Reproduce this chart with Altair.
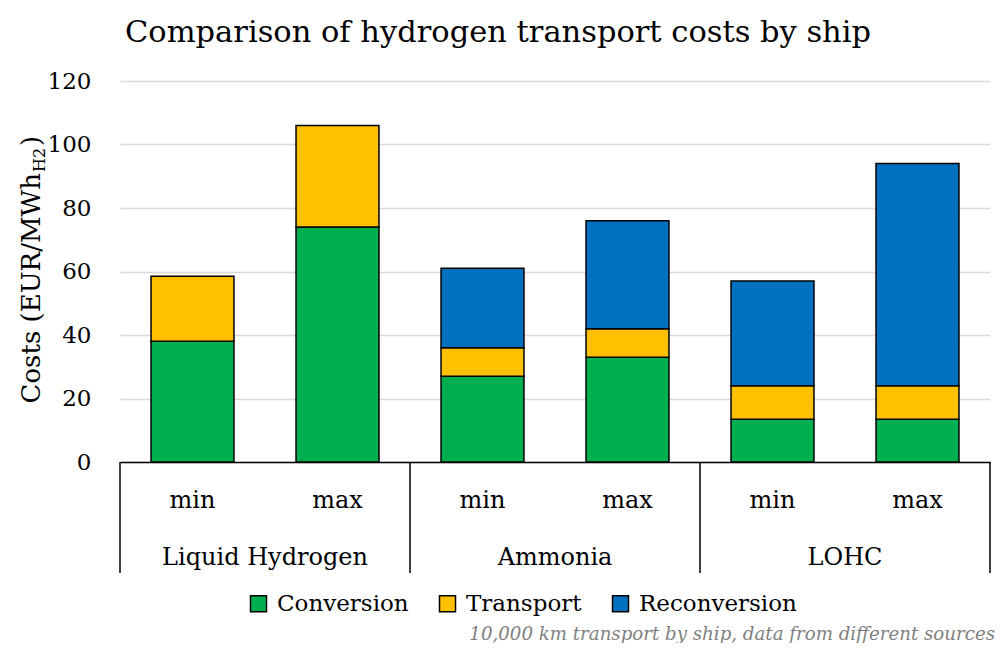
import altair as alt
import pandas as pd

groups = ["Liquid Hydrogen", "Ammonia", "LOHC"]
levels = ["min", "max"]
components = ["Conversion", "Transport", "Reconversion"]
colors = ["#00B050", "#FFC000", "#0070C0"]

# values per bar in order: LH min, LH max, NH3 min, NH3 max, LOHC min, LOHC max
conversion = [38, 74, 27, 33, 13.5, 13.5]
transport = [20.5, 32, 9, 9, 10.5, 10.5]
reconversion = [0, 0, 25, 34, 33, 70]

y_ticks = [0, 20, 40, 60, 80, 100, 120]
boundaries = [0, 1, 2, 3]

FONT = "DejaVu Serif"
W, H = 870, 381

bar_ids, bar_levels, bar_groups = [], [], []
for g in groups:
    for l in levels:
        bar_ids.append(g + "|" + l)
        bar_levels.append(l)
        bar_groups.append(g)

rows = []
for i, bid in enumerate(bar_ids):
    for ci, (comp, vals) in enumerate(zip(components, [conversion, transport, reconversion])):
        if vals[i] > 0:
            rows.append({"bar": bid, "component": comp, "value": vals[i], "idx": ci})
df = pd.DataFrame(rows)
df_levels = pd.DataFrame({"bar": bar_ids, "level": bar_levels})
df_groups = pd.DataFrame({"group": groups})
df_bounds = pd.DataFrame({"b": boundaries})

bars = alt.Chart(df).mark_bar(stroke="black", strokeWidth=1.5).encode(
    x=alt.X("bar:N", sort=bar_ids,
            scale=alt.Scale(paddingInner=0.428, paddingOuter=0.214),
            axis=alt.Axis(labels=False, ticks=False, title=None, domain=True,
                          domainColor="black", domainWidth=1.5, grid=False)),
    y=alt.Y("value:Q", stack="zero",
            scale=alt.Scale(domain=[0, 120], nice=False),
            axis=alt.Axis(values=y_ticks, title=None, grid=True, gridColor="#d9d9d9",
                          gridWidth=1.5, domain=False, ticks=False, tickSize=0,
                          labelFont=FONT, labelFontSize=23, labelColor="black",
                          labelPadding=29)),
    color=alt.Color("component:N",
                    scale=alt.Scale(domain=components, range=colors),
                    legend=alt.Legend(title=None, orient="none", direction="horizontal",
                                      legendX=127, legendY=511, padding=0,
                                      symbolType="square", symbolSize=256,
                                      symbolStrokeColor="black", symbolStrokeWidth=1.5,
                                      labelFont=FONT, labelFontSize=23, labelColor="black",
                                      labelOffset=7, columnPadding=27, labelLimit=400)),
    order=alt.Order("idx:Q"),
)

level_text = alt.Chart(df_levels).mark_text(
    font=FONT, fontSize=24, color="black", baseline="alphabetic"
).encode(
    x=alt.X("bar:N", sort=bar_ids, scale=alt.Scale(type="point", padding=0.5), axis=None),
    y=alt.value(427),
    text="level:N",
)

group_text = alt.Chart(df_groups).mark_text(
    font=FONT, fontSize=24, color="black", baseline="alphabetic"
).encode(
    x=alt.X("group:N", sort=groups, scale=alt.Scale(type="point", padding=0.5), axis=None),
    y=alt.value(484),
    text="group:N",
)

seps = alt.Chart(df_bounds).mark_rule(color="black", strokeWidth=1.5).encode(
    x=alt.X("b:Q", scale=alt.Scale(domain=[0, 3], nice=False, zero=False), axis=None),
    y=alt.value(H),
    y2=alt.value(H + 111),
)

df_title = pd.DataFrame({"t": ["Comparison of hydrogen transport costs by ship"]})
title = alt.Chart(df_title).mark_text(
    font=FONT, fontSize=30.5, color="black", align="center", baseline="alphabetic"
).encode(x=alt.value(378), y=alt.value(-39), text="t:N")

df_yt = pd.DataFrame({
    "t": ["Costs (EUR/MWh", "H2", ")"],
})
yt1 = alt.Chart(df_yt.iloc[[0]]).mark_text(
    font=FONT, fontSize=26, color="black", angle=270, align="right", baseline="alphabetic"
).encode(x=alt.value(-80), y=alt.value(92), text="t:N")
yt2 = alt.Chart(df_yt.iloc[[1]]).mark_text(
    font=FONT, fontSize=16, color="black", angle=270, align="left", baseline="alphabetic"
).encode(x=alt.value(-75), y=alt.value(91), text="t:N")
yt3 = alt.Chart(df_yt.iloc[[2]]).mark_text(
    font=FONT, fontSize=26, color="black", angle=270, align="left", baseline="alphabetic"
).encode(x=alt.value(-80), y=alt.value(65), text="t:N")

df_note = pd.DataFrame({"t": ["10,000 km transport by ship, data from different sources"]})
note = alt.Chart(df_note).mark_text(
    font=FONT, fontSize=18.2, fontStyle="italic", color="#7f7f7f", align="right",
    baseline="alphabetic"
).encode(x=alt.value(875), y=alt.value(559), text="t:N")

chart = alt.layer(bars, level_text, group_text, seps, title, yt1, yt2, yt3, note).resolve_scale(
    x="independent"
).properties(
    width=W, height=H,
    autosize=alt.AutoSizeParams(type="none"),
    padding={"left": 112, "top": 73, "right": 5, "bottom": 181},
).configure_view(stroke=None)

chart.save("out.html", embed_options={"renderer": "svg", "actions": False})
